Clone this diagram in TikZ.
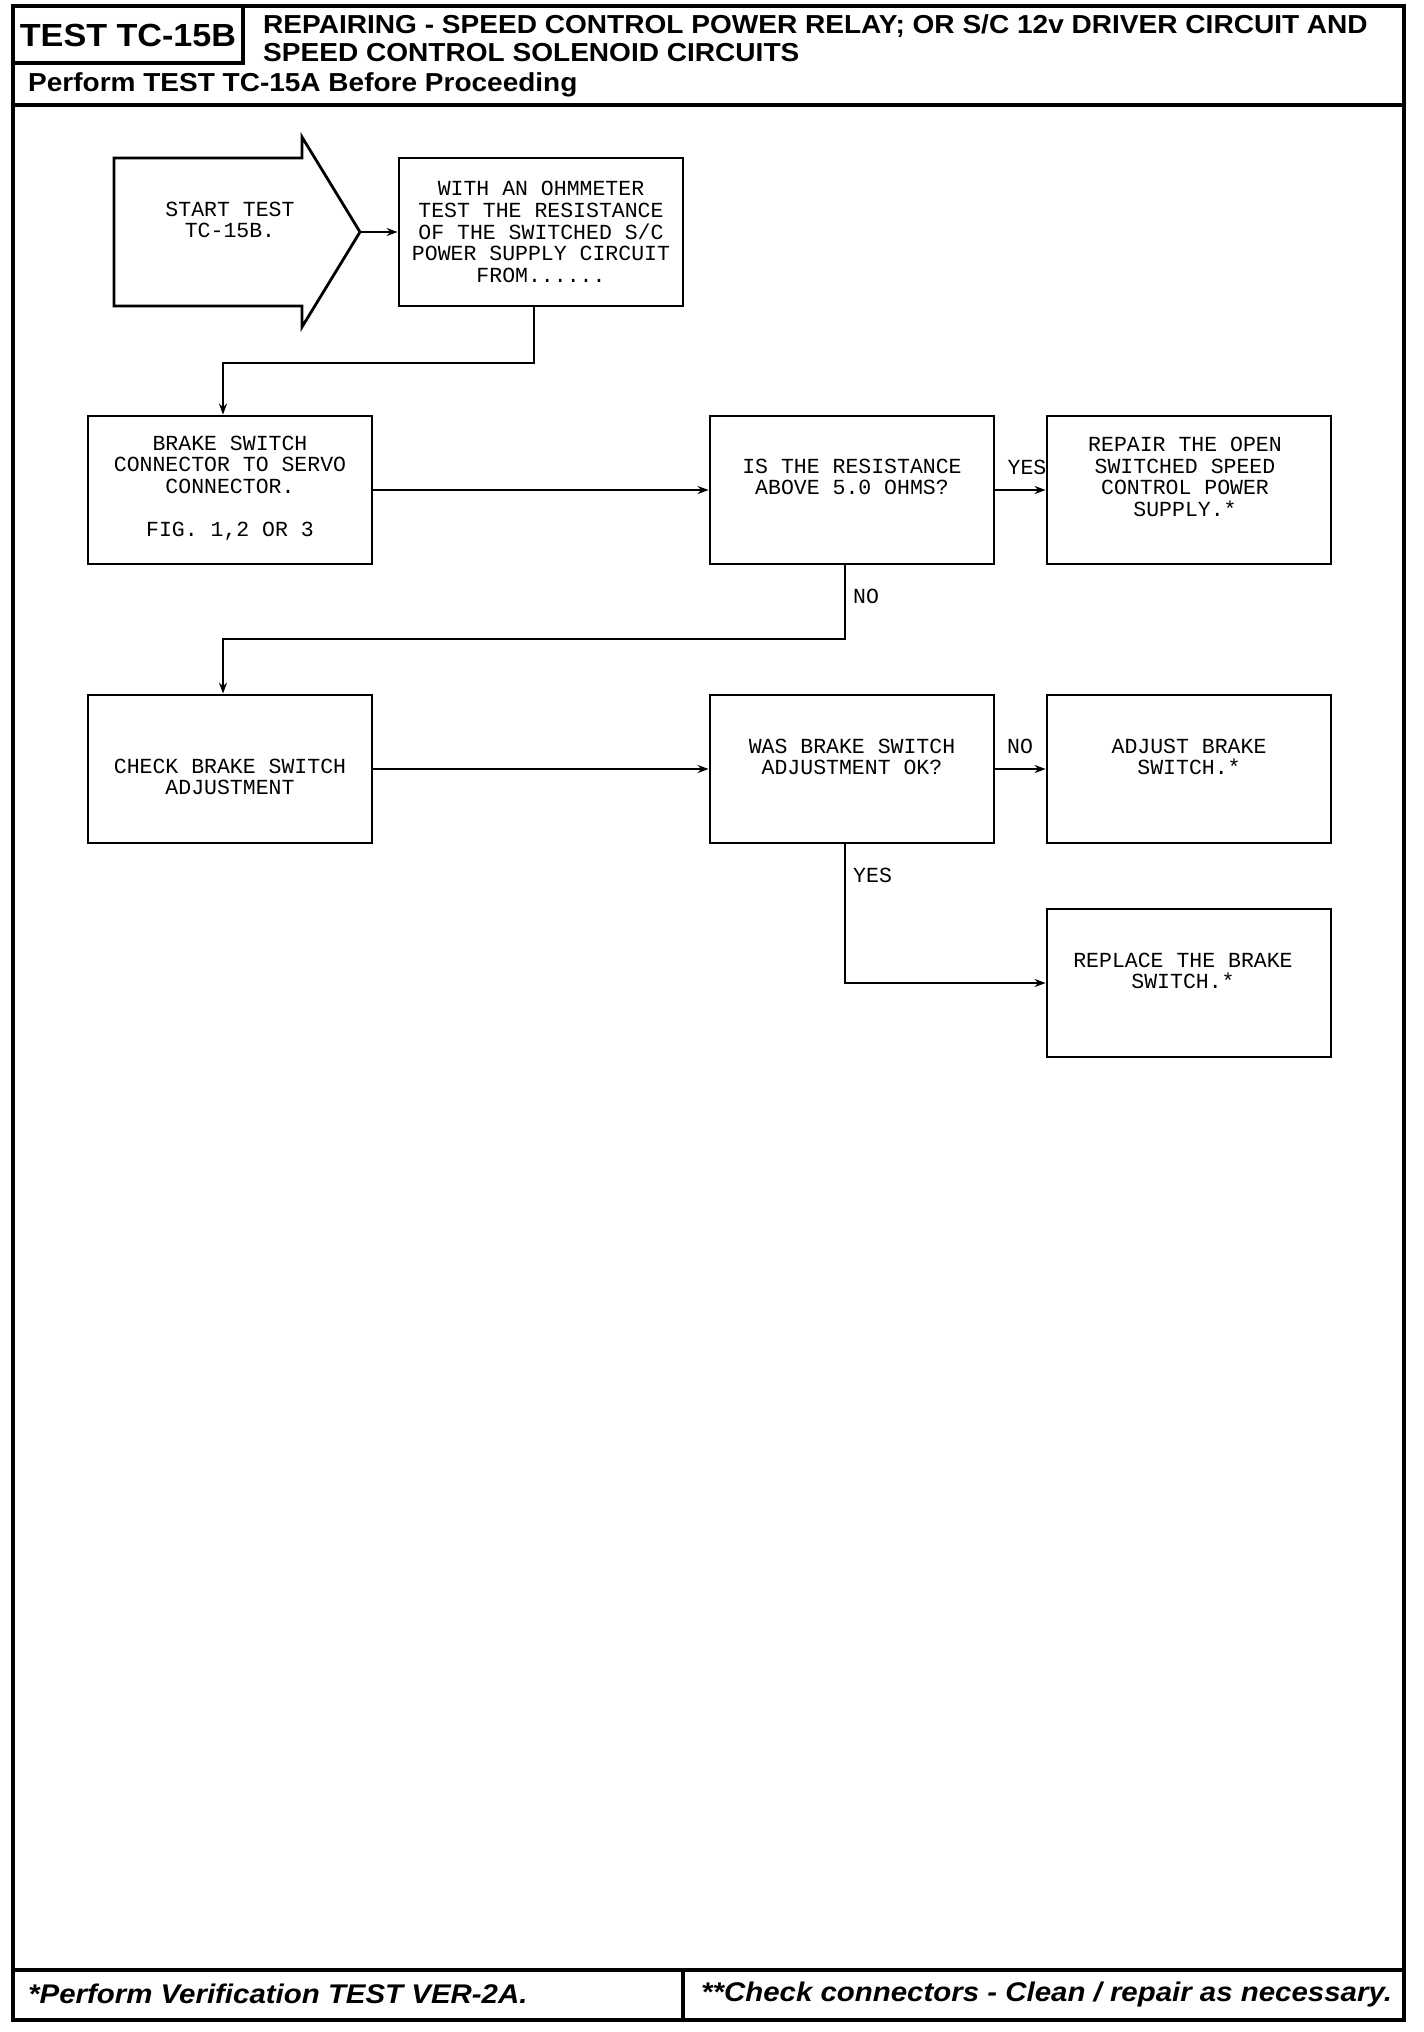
\documentclass[tikz,border=0pt]{standalone}
\usepackage{fontspec}
\usepackage{graphicx}
\setmainfont{Liberation Sans}
\newfontfamily\flowfont{Liberation Mono}
\usetikzlibrary{arrows.meta}
\begin{document}
\begin{tikzpicture}[x=1pt,y=-1pt,
  box/.style={draw, line width=2.8pt, minimum width=284pt, minimum height=148pt, inner sep=0pt},
  txt/.style={font=\flowfont\fontsize{21.5}{21.6}\selectfont, align=center, inner sep=0pt},
  lab/.style={font=\flowfont\fontsize{21.5}{21.6}\selectfont, inner sep=0pt},
  conn/.style={line width=2.4pt, -{Stealth[length=11pt,width=8pt]}},
  frameline/.style={line width=3.4pt},
  hdr/.style={font=\bfseries, inner sep=0pt}]
\useasboundingbox (0,0) rectangle (1424,2032);
% frame
\draw[frameline] (13,6) rectangle (1404,2020);
\draw[frameline] (243,6) -- (243,63) -- (13,63);
\draw[frameline] (13,105) -- (1404,105);
\draw[frameline] (13,1970) -- (1404,1970);
\draw[frameline] (683,1970) -- (683,2020);
% header texts
\node[hdr, font=\bfseries\fontsize{32}{32}\selectfont] (h1) at (128,35) {\scalebox{1.067}[1]{TEST TC-15B}};
\node[hdr, anchor=west, font=\bfseries\fontsize{26}{26}\selectfont] (h2) at (263,26) {\scalebox{1.079}[1]{REPAIRING - SPEED CONTROL POWER RELAY; OR S/C 12v DRIVER CIRCUIT AND}};
\node[hdr, anchor=west, font=\bfseries\fontsize{26}{26}\selectfont] (h3) at (263,53) {\scalebox{1.079}[1]{SPEED CONTROL SOLENOID CIRCUITS}};
\node[hdr, anchor=west, font=\bfseries\fontsize{26}{26}\selectfont] (h4) at (28,85) {\scalebox{1.077}[1]{Perform TEST TC-15A Before Proceeding}};
% footer texts
\node[hdr, anchor=west, font=\bfseries\itshape\fontsize{27}{27}\selectfont] (f1) at (28,1994) {\scalebox{1.09}[1]{*Perform Verification TEST VER-2A.}};
\node[hdr, anchor=west, font=\bfseries\itshape\fontsize{27}{27}\selectfont] (f2) at (701,1994) {\scalebox{1.09}[1]{**Check connectors - Clean / repair as necessary.}};
% start arrow
\coordinate (tip) at (360,232);
\draw[line width=2.8pt, line join=miter] (114,158) -- (302,158) -- (302,137) -- (tip) -- (302,327) -- (302,306) -- (114,306) -- cycle;
\node[txt] (start) at (230,220) {START TEST\\TC-15B.};
% boxes
\node[box] (b2) at (541,232) {};
\node[box] (b3) at (230,490) {};
\node[box] (b4) at (852,490) {};
\node[box] (b5) at (1189,490) {};
\node[box] (b6) at (230,769) {};
\node[box] (b7) at (852,769) {};
\node[box] (b8) at (1189,769) {};
\node[box] (b9) at (1189,983) {};
% box texts
\node[txt] (t2) at (541,232) {WITH AN OHMMETER\\TEST THE RESISTANCE\\OF THE SWITCHED S/C\\POWER SUPPLY CIRCUIT\\FROM......};
\node[txt] (t3) at (230,488) {BRAKE SWITCH\\CONNECTOR TO SERVO\\CONNECTOR.\\[21.6pt]FIG. 1,2 OR 3};
\node[txt] (t4) at (852,477) {IS THE RESISTANCE\\ABOVE 5.0 OHMS?};
\node[txt] (t5) at (1185,477) {REPAIR THE OPEN\\SWITCHED SPEED\\CONTROL POWER\\SUPPLY.*};
\node[txt] (t6) at (230,777) {CHECK BRAKE SWITCH\\ADJUSTMENT};
\node[txt] (t7) at (852,757) {WAS BRAKE SWITCH\\ADJUSTMENT OK?};
\node[txt] (t8) at (1189,757) {ADJUST BRAKE\\SWITCH.*};
\node[txt] (t9) at (1183,971) {REPLACE THE BRAKE\\SWITCH.*};
% connectors
\coordinate (c1) at (534,363);
\coordinate (c2) at (845,639);
\draw[conn] (tip) -- (b2.west);
\draw[conn] ([xshift=-7pt]b2.south) -- (c1) -| ([xshift=-7pt]b3.north);
\draw[conn] (b3.east) -- (b4.west);
\draw[conn] (b4.east) -- (b5.west);
\draw[conn] ([xshift=-7pt]b4.south) -- (c2) -| ([xshift=-7pt]b6.north);
\draw[conn] (b6.east) -- (b7.west);
\draw[conn] (b7.east) -- (b8.west);
\draw[conn] ([xshift=-7pt]b7.south) |- (b9.west);
% labels
\node[lab] (l1) at (1027,467) {YES};
\node[lab, anchor=west] (l2) at (853,596) {NO};
\node[lab] (l3) at (1020,746) {NO};
\node[lab, anchor=west] (l4) at (853,875) {YES};
\end{tikzpicture}
\end{document}
